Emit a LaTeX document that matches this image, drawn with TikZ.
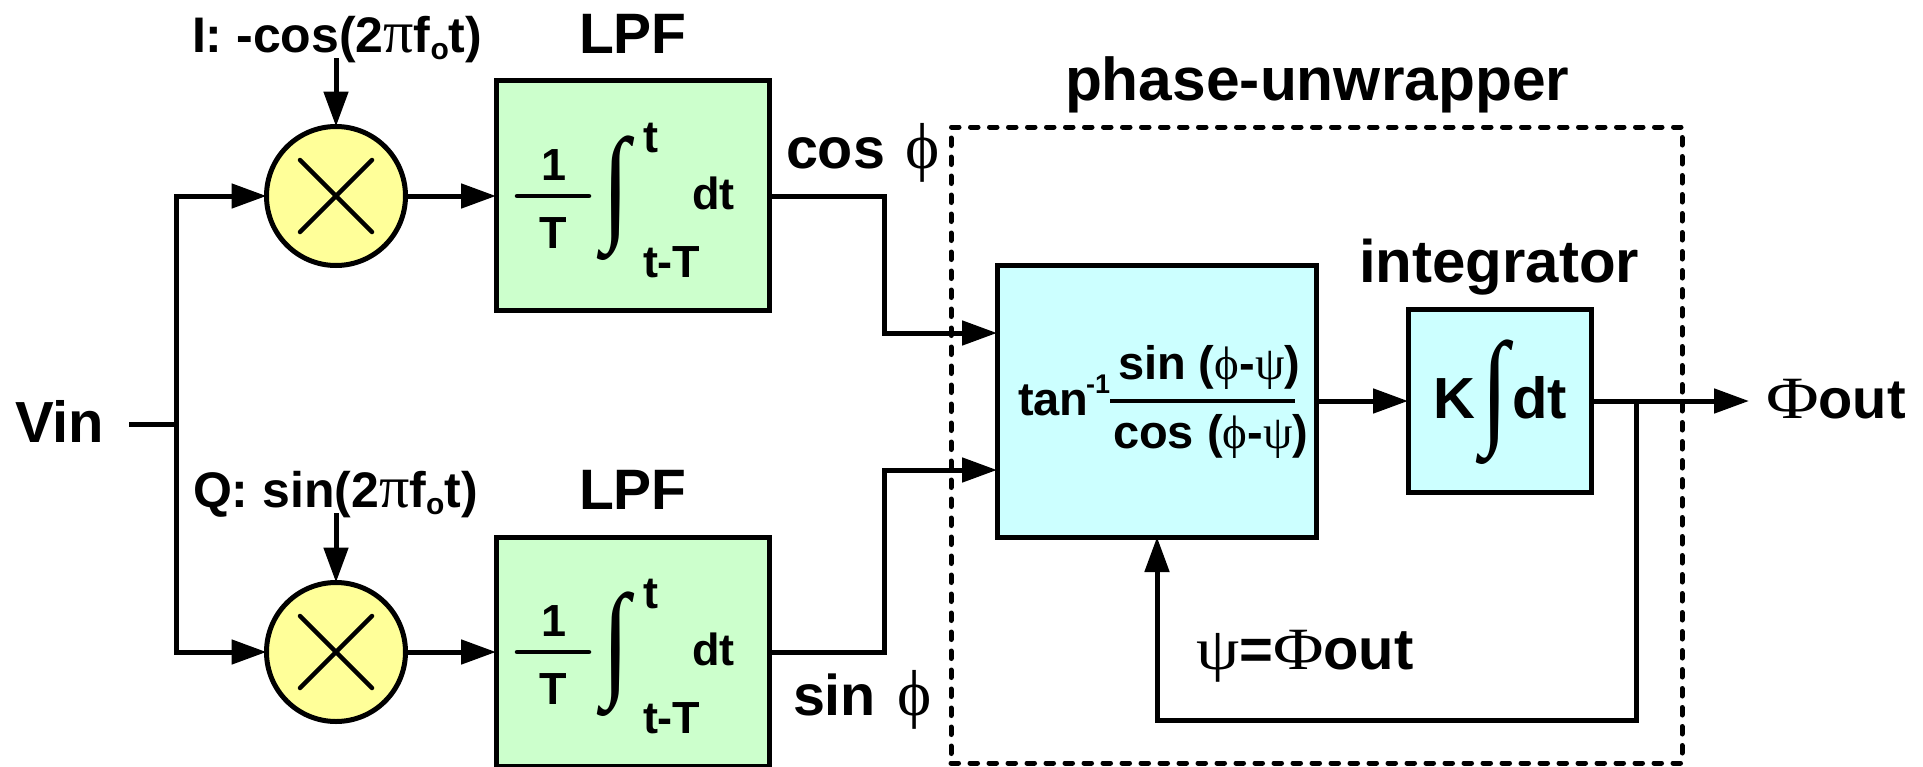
\documentclass[tikz,border=0pt]{standalone}
\usepackage{fontspec}
\usetikzlibrary{arrows.meta}
\setmainfont{Liberation Sans}[BoldFont={Liberation Sans Bold}]
\newfontfamily\grk{Liberation Serif}
\newcommand{\fs}[1]{\fontsize{#1}{#1}\selectfont\bfseries}
\newcommand{\gk}[2]{{\fontsize{#1}{#1}\selectfont\grk\mdseries #2}}
\newcommand{\wgk}[3]{\scalebox{#1}[1]{\gk{#2}{#3}}}
\tikzset{
  wire/.style={line width=5pt,line join=miter},
  arr/.style={wire,-{Triangle[length=35pt,width=24pt]}},
  mixer/.style={circle,draw,line width=5pt,fill=mixfill,minimum size=139pt,inner sep=0pt,outer sep=0pt},
  lpfbox/.style={rectangle,draw,line width=5pt,fill=lpffill,minimum width=273pt,inner sep=0pt,outer sep=0pt},
  cyanbox/.style={rectangle,draw,line width=5pt,fill=cyanfill,inner sep=0pt,outer sep=0pt},
  txt/.style={anchor=base west,inner sep=0pt,outer sep=0pt,text=black},
  intsign/.style={anchor=base,inner sep=0pt,outer sep=0pt,xscale=0.78,font=\fontsize{127}{127}\selectfont\grk},
  dashbox/.style={rectangle,draw,line width=5pt,line cap=round,dash pattern=on 7.5pt off 11.5pt,inner sep=0pt,outer sep=0pt},
  cross/.style={line width=4.5pt,line cap=round}
}
\definecolor{mixfill}{HTML}{FFFF99}
\definecolor{lpffill}{HTML}{CCFFCC}
\definecolor{cyanfill}{HTML}{CCFFFF}
\begin{document}
\begin{tikzpicture}[x=1pt,y=-1pt]
\useasboundingbox (0,0) rectangle (1923,766);
% dashed phase-unwrapper
\node[dashbox,minimum width=731pt,minimum height=636pt] (pu) at (1316.5,445) {};
% boxes
\node[mixer] (m1) at (336,196) {};
\node[mixer] (m2) at (336,652) {};
\node[lpfbox,minimum height=230pt] (l1) at (632.5,195.5) {};
\node[lpfbox,minimum height=229pt] (l2) at (632.5,651.5) {};
\node[cyanbox,minimum width=319pt,minimum height=272pt] (atan) at (1156.5,401) {};
\node[cyanbox,minimum width=183pt,minimum height=183pt] (integ) at (1499.5,401) {};
% crosses
\draw[cross] (300,160) -- (372,232);
\draw[cross] (372,160) -- (300,232);
\draw[cross] (300,616) -- (372,688);
\draw[cross] (372,616) -- (300,688);
% labels
\node[txt] (vin) at (15,442) {\fs{58}Vin};
\node[txt] (lo1) at (192,52) {\fs{50}I: -cos(2\gk{60}{π}f\raisebox{-7pt}{\fs{30}o}t)};
\node[txt] (lo2) at (193,507) {\fs{50}Q: sin(2\gk{60}{π}f\raisebox{-7pt}{\fs{30}o}t)};
\node[txt] (t1) at (579,53) {\fs{57}LPF};
\node[txt] (t2) at (579,509) {\fs{57}LPF};
\node[txt] (pt) at (1065,100) {\fs{60.5}phase-unwrapper};
\node[txt] (it) at (1359,282) {\fs{60}integrator};
\node[txt] (co) at (786,168) {\fs{57.5}cos\hspace{20pt}\gk{65}{ϕ}};
\node[txt] (si) at (793,715) {\fs{57.5}sin\hspace{21pt}\gk{65}{ϕ}};
\node[txt] (po) at (1766,418) {\fs{56}\wgk{1.2}{60}{Φ}out};
\node[txt] (pe) at (1196,669) {\fs{58}\wgk{1.15}{60}{ψ}=\wgk{1.15}{60}{Φ}out};
% LPF contents
\foreach \n/\d in {a/0,b/456}{
  \node[txt] (one\n) at (541,180+\d) {\fs{45}1};
  \node[txt] (tee\n) at (539,248+\d) {\fs{45}T};
  \node[txt] (up\n) at (643,152+\d) {\fs{45}t};
  \node[txt] (dt\n) at (692,209+\d) {\fs{45}dt};
  \node[txt] (lo\n) at (643,277+\d) {\fs{45}t-T};
  \node[intsign] (int\n) at (616,226+\d) {∫};
  \draw[line width=4.5pt,line cap=round] (517,196+\d) -- (589,196+\d);
}
% atan contents
\node[txt] (tan) at (1018,415) {\fs{47}tan};
\node[txt] (sup) at (1086,393) {\fs{27}-1};
\draw[line width=4pt] (1110,401) -- (1295,401);
\node[txt] (sn) at (1118,379) {\fs{47}sin (\gk{47}{ϕ}-\gk{47}{ψ})};
\node[txt] (cs) at (1113,448) {\fs{47}cos (\gk{47}{ϕ}-\gk{47}{ψ})};
% integrator contents
\node[txt] (kk) at (1433,418) {\fs{58}K};
\node[intsign] (kint) at (1495,430) {∫};
\node[txt] (kdt) at (1512,418) {\fs{58}dt};
% connectors
\coordinate (vs) at (129,424);
\coordinate (vj) at (176,424);
\coordinate (vt) at (176,196);
\coordinate (vb) at (176,652);
\draw[wire] (vs) -- (vj);
\draw[arr] (vj) -- (vt) -- (m1.west);
\draw[arr] (vj) -- (vb) -- (m2.west);
\coordinate (i1) at (336,58);
\coordinate (i2) at (336,513);
\draw[arr] (i1) -- (m1.north);
\draw[arr] (i2) -- (m2.north);
\draw[arr] (m1.east) -- (l1.west |- m1.east);
\draw[arr] (m2.east) -- (l2.west |- m2.east);
\draw[arr] (l1.east |- m1.east) -- (884,196) -- (884,333) -- (atan.west |- 884,333);
\draw[arr] (l2.east |- m2.east) -- (884,652) -- (884,470) -- (atan.west |- 884,470);
\draw[arr] (atan.east) -- (integ.west);
\coordinate (oe) at (1749,401);
\coordinate (fj) at (1636,401);
\draw[arr] (integ.east) -- (oe);
\draw[arr] (fj) -- (1636,720) -- (1157,720) -- (atan.south -| 1157,720);
\end{tikzpicture}
\end{document}
